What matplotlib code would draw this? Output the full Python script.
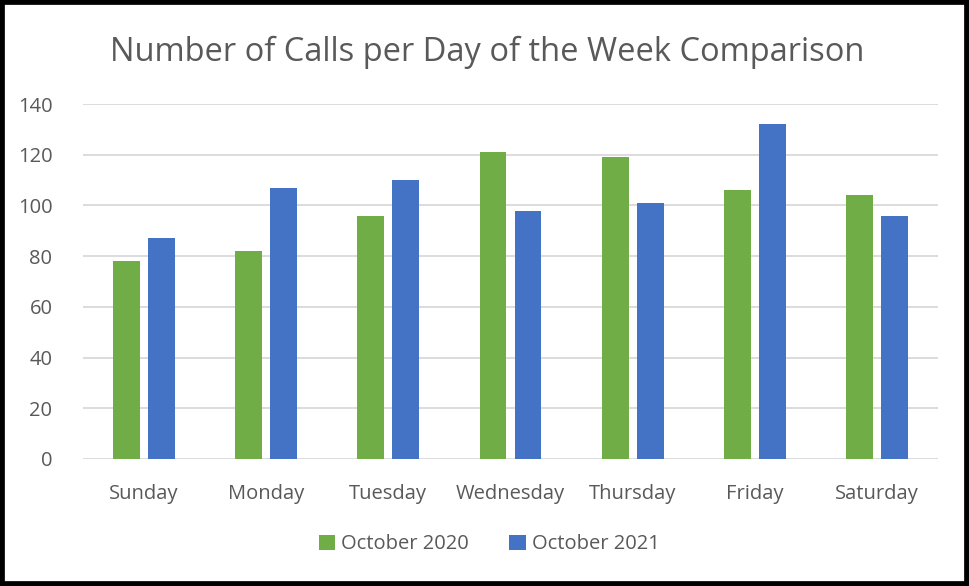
import numpy as np
import matplotlib
matplotlib.use("Agg")
import matplotlib.pyplot as plt
from matplotlib.patches import Rectangle

days = ["Sunday", "Monday", "Tuesday", "Wednesday", "Thursday", "Friday", "Saturday"]
oct_2020 = [78, 82, 96, 121, 119, 106, 104]
oct_2021 = [87, 107, 110, 98, 101, 132, 96]
y_ticks = [0, 20, 40, 60, 80, 100, 120, 140]

plt.rcParams['font.family'] = ['Open Sans', 'DejaVu Sans']
grey = '#595959'

fig = plt.figure(figsize=(9.69, 5.86), dpi=100)
ax = fig.add_axes([83/969, 1-459/586, (938-83)/969, (459-104)/586])

x = np.arange(len(days))
w = 0.22
ax.bar(x - 0.143, oct_2020, w, color='#70AD47', label='October 2020', zorder=3)
ax.bar(x + 0.143, oct_2021, w, color='#4472C4', label='October 2021', zorder=3)

ax.set_xlim(-0.5, len(days) - 0.5)
ax.set_ylim(0, 140)
ax.set_yticks(y_ticks)
ax.set_xticks(x)
ax.set_xticklabels(days)
ax.tick_params(axis='both', length=0, labelsize=14.5, colors=grey)
ax.tick_params(axis='x', pad=18)
ax.tick_params(axis='y', pad=22)
ax.yaxis.grid(True, color='#d9d9d9', linewidth=1.3, zorder=0)
for s in ax.spines.values():
    s.set_visible(False)

fig.text(0.503, 0.91, 'Number of Calls per Day of the Week Comparison',
         ha='center', va='center', fontsize=23.5, color=grey)

fig.legend(loc='center', bbox_to_anchor=(0.505, 0.071), ncol=2, frameon=False,
           fontsize=14.5, labelcolor=grey, handlelength=0.8, handleheight=0.8,
           handletextpad=0.3, columnspacing=2.0)

# black frame round the whole picture
fig.patches.append(Rectangle((0, 0), 1, 1, transform=fig.transFigure,
                             fill=False, edgecolor='black', linewidth=7))

fig.savefig('out.png', dpi=100)
